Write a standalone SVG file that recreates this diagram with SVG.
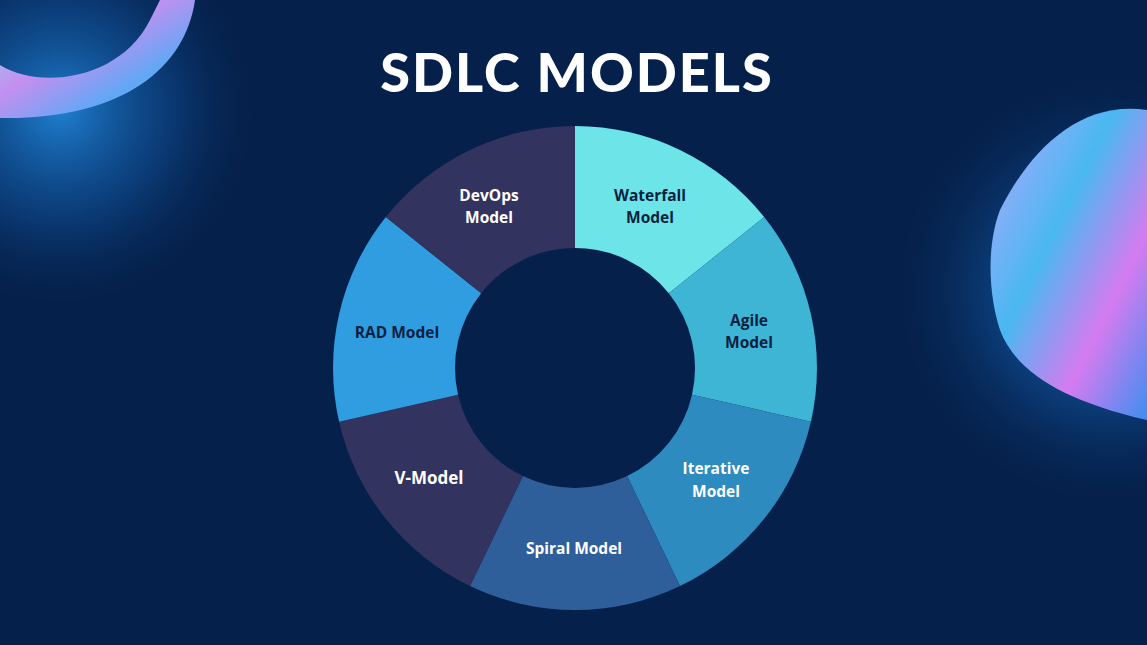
<svg xmlns="http://www.w3.org/2000/svg" width="1147" height="645" viewBox="0 0 1147 645">
<defs>
<radialGradient id="g1" cx="0.5" cy="0.5" r="0.5"><stop offset="0" stop-color="#1f7fd0"/><stop offset="0.5" stop-color="#0f4f96" stop-opacity="0.6"/><stop offset="1" stop-color="#04204a" stop-opacity="0"/></radialGradient>
<linearGradient id="ir" x1="0" y1="0" x2="1" y2="1"><stop offset="0" stop-color="#7fe8f0"/><stop offset="0.4" stop-color="#c58ff0"/><stop offset="0.7" stop-color="#5fa8f5"/><stop offset="1" stop-color="#e8a0f5"/></linearGradient>
<linearGradient id="ir2" x1="0" y1="0" x2="1" y2="1"><stop offset="0" stop-color="#b9a6ff"/><stop offset="0.4" stop-color="#49b8f0"/><stop offset="0.7" stop-color="#d57bf0"/><stop offset="1" stop-color="#3d8ff0"/></linearGradient>
<style>
.lbl{font-family:"Open Sans","Liberation Sans",sans-serif;font-weight:700;font-size:15.5px;text-anchor:middle}
.w{fill:#ffffff}.d{fill:#0b1f3f}
</style>
</defs>
<rect width="1147" height="645" fill="#05204a"/>
<circle cx="60" cy="110" r="210" fill="url(#g1)"/>
<circle cx="1110" cy="290" r="230" fill="url(#g1)"/>
<path d="M0,65 C40,90 120,80 150,20 L160,0 L195,0 C185,70 120,120 0,118 Z" fill="url(#ir)"/>
<path d="M1147,110 C1080,100 1030,150 1000,210 C985,250 990,300 1000,330 C1015,370 1060,400 1147,420 Z" fill="url(#ir2)"/>
<text x="577" y="92" font-family="Lato,'Open Sans',sans-serif" font-weight="900" font-size="54" letter-spacing="2" fill="#ffffff" text-anchor="middle">SDLC MODELS</text>
<g id="waterfall"><path d="M575,126 A242,242 0 0 1 764.2,217.1 L668.8,293.2 A120,120 0 0 0 575,248 Z" fill="#6ce4e8"/><text class="lbl d" x="650" y="201">Waterfall</text><text class="lbl d" x="650" y="223">Model</text></g>
<g id="agile"><path d="M764.2,217.1 A242,242 0 0 1 810.9,421.8 L692,394.7 A120,120 0 0 0 668.8,293.2 Z" fill="#3fb5d6"/><text class="lbl d" x="749" y="326">Agile</text><text class="lbl d" x="749" y="348">Model</text></g>
<g id="iterative"><path d="M810.9,421.8 A242,242 0 0 1 680,586 L627.1,476.1 A120,120 0 0 0 692,394.7 Z" fill="#2d8bbf"/><text class="lbl w" x="716" y="474">Iterative</text><text class="lbl w" x="716" y="497">Model</text></g>
<g id="spiral"><path d="M680,586 A242,242 0 0 1 470,586 L522.9,476.1 A120,120 0 0 0 627.1,476.1 Z" fill="#2f5f9a"/><text class="lbl w" x="574" y="554">Spiral Model</text></g>
<g id="vmodel"><path d="M470,586 A242,242 0 0 1 339.1,421.8 L458,394.7 A120,120 0 0 0 522.9,476.1 Z" fill="#33335f"/><text class="lbl w" x="429" y="484" style="font-size:17px">V-Model</text></g>
<g id="rad"><path d="M339.1,421.8 A242,242 0 0 1 385.8,217.1 L481.2,293.2 A120,120 0 0 0 458,394.7 Z" fill="#2f9de0"/><text class="lbl d" x="397" y="338">RAD Model</text></g>
<g id="devops"><path d="M385.8,217.1 A242,242 0 0 1 575,126 L575,248 A120,120 0 0 0 481.2,293.2 Z" fill="#33335f"/><text class="lbl w" x="489" y="201">DevOps</text><text class="lbl w" x="489" y="223">Model</text></g>
<g id="connectors"/>
</svg>
